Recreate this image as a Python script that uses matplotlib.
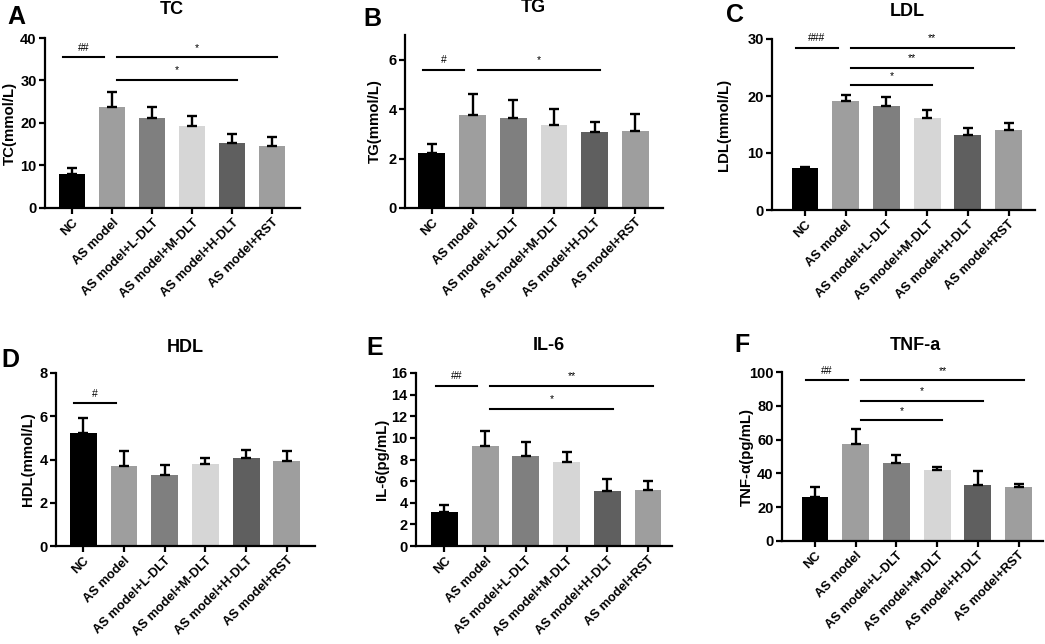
import matplotlib
matplotlib.use("Agg")
import matplotlib.pyplot as plt

plt.rcParams['font.family'] = ['Liberation Sans', 'DejaVu Sans']
plt.rcParams['font.weight'] = 'bold'

groups = ["NC", "AS model", "AS model+L-DLT", "AS model+M-DLT",
          "AS model+H-DLT", "AS model+RST"]
bar_colors = ["#000000", "#9e9e9e", "#7f7f7f", "#d6d6d6", "#5f5f5f", "#9e9e9e"]

tc_mean = [8.0, 23.7, 21.2, 19.3, 15.4, 14.6]
tc_err = [1.3, 3.6, 2.6, 2.3, 2.0, 2.1]
tg_mean = [2.21, 3.78, 3.63, 3.35, 3.08, 3.13]
tg_err = [0.36, 0.83, 0.76, 0.65, 0.40, 0.66]
ldl_mean = [7.4, 19.1, 18.3, 16.1, 13.1, 14.0]
ldl_err = [0.2, 1.0, 1.5, 1.4, 1.2, 1.3]
hdl_mean = [5.22, 3.68, 3.30, 3.78, 4.08, 3.91]
hdl_err = [0.70, 0.70, 0.46, 0.29, 0.34, 0.50]
il6_mean = [3.1, 9.29, 8.3, 7.8, 5.08, 5.2]
il6_err = [0.68, 1.39, 1.3, 0.9, 1.11, 0.84]
tnf_mean = [26.3, 57.5, 46.4, 41.9, 33.0, 32.0]
tnf_err = [5.9, 8.5, 4.4, 2.0, 8.5, 1.6]

# significance brackets: (start group, end group, height, label)
tc_sig = [(0, 1, 35.5, "##"), (1, 5, 35.5, "*"), (1, 4, 30.2, "*")]
tg_sig = [(0, 1, 5.6, "#"), (1, 4, 5.6, "*")]
ldl_sig = [(0, 1, 28.5, "###"), (1, 5, 28.5, "**"), (1, 4, 25.0, "**"), (1, 3, 21.9, "*")]
hdl_sig = [(0, 1, 6.6, "#")]
il6_sig = [(0, 1, 14.83, "##"), (1, 5, 14.83, "**"), (1, 4, 12.7, "*")]
tnf_sig = [(0, 1, 95.0, "##"), (1, 5, 95.0, "**"), (1, 4, 83.0, "*"), (1, 3, 71.7, "*")]

W, H = 1045, 644
fig = plt.figure(figsize=(W / 100, H / 100), dpi=100)

panels = [
    ("A", "TC", "TC(mmol/L)", tc_mean, tc_err, tc_sig, 40, [0, 10, 20, 30, 40],
     (45, 300, 38, 208), (-0.68, 5.7), (16, 17), (172, 10), 10),
    ("B", "TG", "TG(mmol/L)", tg_mean, tg_err, tg_sig, 7, [0, 2, 4, 6],
     (405, 663, 35, 208), (-0.66, 5.68), (372, 19), (533, 8), 375),
    ("C", "LDL", "LDL(mmol/L)", ldl_mean, ldl_err, ldl_sig, 30, [0, 10, 20, 30],
     (772, 1035, 39, 210), (-0.81, 5.65), (735, 15), (907, 12), 724),
    ("D", "HDL", "HDL(mmol/L)", hdl_mean, hdl_err, hdl_sig, 8, [0, 2, 4, 6, 8],
     (56, 315, 373, 546), (-0.67, 5.69), (10, 360), (185, 347), 28),
    ("E", "IL-6", "IL-6(pg/mL)", il6_mean, il6_err, il6_sig, 16, [0, 2, 4, 6, 8, 10, 12, 14, 16],
     (416, 672, 373, 546), (-0.70, 5.59), (375, 348), (549, 345), 382),
    ("F", "TNF-a", "TNF-α(pg/mL)", tnf_mean, tnf_err, tnf_sig, 100, [0, 20, 40, 60, 80, 100],
     (782, 1043, 372, 541), (-0.81, 5.6), (742, 345), (915, 345), 747),
]

for (letter, title, ylab, mean, err, sig, ytop, yticks, box, xlim, lpos, tpos, ylx) in panels:
    l, r, t, b = box
    ax = fig.add_axes([l / W, 1 - b / H, (r - l) / W, (b - t) / H])
    x = list(range(len(groups)))
    ax.bar(x, mean, width=0.66, color=bar_colors, zorder=2)
    ax.errorbar(x, mean, yerr=[[0] * len(err), err], fmt='none', ecolor='black',
                elinewidth=1.7, capsize=3.5, capthick=1.7, zorder=3)
    ax.set_xlim(*xlim)
    ax.set_ylim(0, ytop)
    ax.set_yticks(yticks)
    ax.set_xticks(x)
    ax.set_xticklabels(groups, rotation=45, ha='right', rotation_mode='anchor',
                       fontsize=9.3, fontweight='bold')
    for lab in ax.get_yticklabels():
        lab.set_fontsize(10.5)
        lab.set_fontweight('bold')
    ax.set_ylabel(ylab, fontsize=10.8, fontweight='bold', va='center')
    ax.yaxis.set_label_coords(ylx / W, 1 - ((t + b) / 2) / H, transform=fig.transFigure)
    for s in ['top', 'right']:
        ax.spines[s].set_visible(False)
    for s in ['left', 'bottom']:
        ax.spines[s].set_linewidth(1.6)
    ax.tick_params(axis='both', width=1.6, length=4, pad=2)
    for (i1, i2, hgt, lab) in sig:
        if lab.startswith("#"):
            x0, x1 = i1 - 0.22, i2 - 0.2
        else:
            x0, x1 = i1 + 0.13, i2 + 0.13
        ax.plot([x0, x1], [hgt, hgt], color='black', lw=1.5, clip_on=False, zorder=4)
        ax.text((x0 + x1) / 2, hgt + ytop * 0.025, lab, ha='center', va='bottom',
                fontsize=7.5, fontweight='normal')
    fig.text(lpos[0] / W, 1 - lpos[1] / H, letter, fontsize=18, fontweight='bold',
             ha='center', va='center')
    fig.text(tpos[0] / W, 1 - tpos[1] / H, title, fontsize=13, fontweight='bold',
             ha='center', va='center')

fig.savefig("out.png", dpi=100)
